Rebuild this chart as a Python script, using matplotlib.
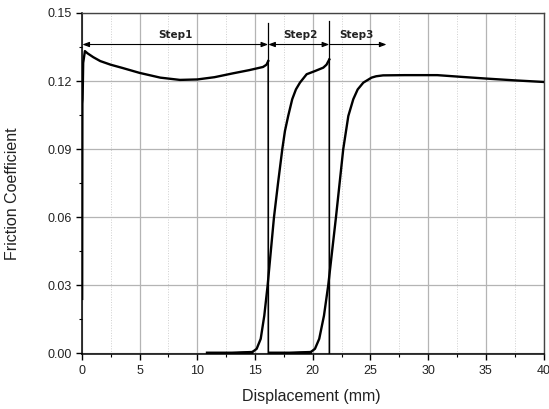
import matplotlib
matplotlib.use("Agg")
import matplotlib.pyplot as plt
from matplotlib.ticker import MultipleLocator, FormatStrFormatter

plt.rcParams['font.family'] = ['Liberation Sans', 'DejaVu Sans']

# step 1 run
step1_x = [0.03, 0.05, 0.07, 0.12, 0.27, 0.5, 1.0, 1.6, 2.5, 3.5, 5.0, 6.8,
           8.5, 10.0, 11.5, 13.1, 14.5, 15.7, 16.0, 16.15, 16.16]
step1_y = [0.024, 0.11, 0.112, 0.128, 0.1332, 0.1322, 0.1305, 0.1288, 0.1272,
           0.1258, 0.1236, 0.1215, 0.1205, 0.1207, 0.1217, 0.1234, 0.1248,
           0.1262, 0.1272, 0.1288, 0.0]

# step 2 run
step2_x = [10.9, 13.0, 14.7, 15.15, 15.5, 15.81, 16.1, 16.65, 17.0, 17.37,
           17.6, 17.88, 18.23, 18.55, 18.9, 19.48, 20.2, 20.92, 21.2, 21.44, 21.45]
step2_y = [0.0, 0.0, 0.0003, 0.002, 0.0064, 0.0166, 0.03, 0.06, 0.075, 0.09,
           0.098, 0.1046, 0.112, 0.1163, 0.1193, 0.123, 0.1244, 0.1259, 0.1272,
           0.1295, 0.0]

# step 3 run
step3_x = [16.3, 18.0, 19.77, 20.2, 20.57, 20.98, 21.35, 22.02, 22.65, 23.09,
           23.52, 23.9, 24.39, 25.1, 25.5, 26.1, 28.0, 30.8, 33.0, 35.0, 37.5, 40.0]
step3_y = [0.0, 0.0, 0.0003, 0.002, 0.0064, 0.0166, 0.03, 0.06, 0.09, 0.1046,
           0.112, 0.1163, 0.1193, 0.1215, 0.1221, 0.1225, 0.1226, 0.1226, 0.1218,
           0.1211, 0.1203, 0.1196]

# step boundaries and labels
bounds = [0.05, 16.15, 21.44, 26.4]
bound_tops = [0.1457, 0.1464]
step_labels = ['Step1', 'Step2', 'Step3']
label_x = [8.1, 18.9, 23.8]
arrow_y = 0.1361
label_y = 0.1405

fig = plt.figure(figsize=(5.49, 4.09), dpi=100)
ax = fig.add_axes([0.149, 0.1333, 0.841, 0.835])

# step 1 ends with a sharp drop, drawn thinner
ax.plot(step1_x[:-1], step1_y[:-1], color='black', lw=1.7, solid_joinstyle='round', zorder=3)
ax.plot(step1_x[-2:], step1_y[-2:], color='black', lw=1.2, zorder=3)
ax.plot(step2_x[:-1], step2_y[:-1], color='black', lw=1.7, solid_joinstyle='round', zorder=3)
ax.plot(step2_x[-2:], step2_y[-2:], color='black', lw=1.2, zorder=3)
ax.plot(step3_x, step3_y, color='black', lw=1.7, solid_joinstyle='round', zorder=3)
# flat zero stretches look heavier in the original
ax.plot(step2_x[:3], step2_y[:3], color='black', lw=2.6, zorder=3)
ax.plot(step3_x[:3], step3_y[:3], color='black', lw=2.6, zorder=3)

# vertical separators above the curves
ax.plot([bounds[1], bounds[1]], [step1_y[-2], bound_tops[0]], color='black', lw=0.9, zorder=3)
ax.plot([bounds[2], bounds[2]], [step2_y[-2], bound_tops[1]], color='black', lw=0.9, zorder=3)

styles = ['<|-|>', '<|-|>', '-|>']
for i in range(3):
    ax.annotate('', xy=(bounds[i + 1], arrow_y), xytext=(bounds[i], arrow_y),
                arrowprops=dict(arrowstyle=styles[i] + ',head_length=0.4,head_width=0.15',
                                color='black', lw=0.8, shrinkA=0, shrinkB=0))
    ax.text(label_x[i], label_y, step_labels[i], ha='center', va='center',
            fontsize=7.5, fontweight='bold', family=['DejaVu Sans'], color='#222222')

ax.set_xlim(0, 40)
ax.set_ylim(-0.0005, 0.15)
ax.xaxis.set_major_locator(MultipleLocator(5))
ax.xaxis.set_minor_locator(MultipleLocator(2.5))
ax.yaxis.set_major_locator(MultipleLocator(0.03))
ax.yaxis.set_minor_locator(MultipleLocator(0.015))
ax.yaxis.set_major_formatter(FormatStrFormatter('%.2f'))

ax.grid(True, which='major', color='#b4b4b4', lw=0.9)
ax.grid(True, which='minor', axis='x', color='#cfcfcf', lw=0.7, linestyle=':')
ax.set_axisbelow(True)

ax.tick_params(which='major', direction='out', length=4, width=1, labelsize=9,
               top=False, right=False, color='black', labelcolor='#222222')
ax.tick_params(which='minor', direction='out', length=2.5, width=0.8,
               top=False, right=False, color='black')
for side in ['left', 'bottom']:
    ax.spines[side].set_color('black')
    ax.spines[side].set_linewidth(1.1)
for side in ['top', 'right']:
    ax.spines[side].set_color('#444444')
    ax.spines[side].set_linewidth(1.0)

ax.set_xlabel('Displacement (mm)', fontsize=11.5, color='#222222')
ax.set_ylabel('Friction Coefficient', fontsize=11.5, color='#222222')
ax.xaxis.set_label_coords(0.498, -0.1)
ax.yaxis.set_label_coords(-0.134, 0.47)

fig.savefig('out.png', dpi=100)
